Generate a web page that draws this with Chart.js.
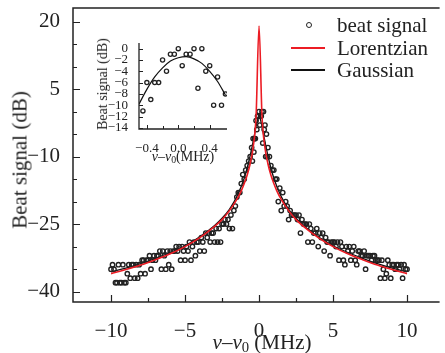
<!DOCTYPE html>
<html>
<head>
<meta charset="utf-8">
<script src="https://cdn.jsdelivr.net/npm/chart.js@4"></script>
<style>
  body { margin: 0; background: #fff; }
  #wrap { position: relative; width: 445px; height: 353px; overflow: hidden; font-family: "Liberation Serif", serif; color: #222; }
  canvas { position: absolute; }
  .txt { position: absolute; white-space: nowrap; line-height: 1; }
  .txt sub { font-size: 70%; vertical-align: -0.25em; line-height: 0; }
  .rot { transform: translate(-50%, -50%) rotate(-90deg); }
  .ctr { transform: translate(-50%, -50%); }
</style>
</head>
<body>
<div id="wrap">
  <canvas id="mainChart" width="445" height="353" style="left:0;top:0"></canvas>
  <canvas id="insetChart" width="160" height="145" style="left:80px;top:28px"></canvas>

  <div class="txt rot" style="left:20px;top:160px;font-size:21px">Beat signal (dB)</div>
  <div class="txt ctr" style="left:262px;top:342px;font-size:21px"><i>v</i>–<i>v</i><sub>0</sub> (MHz)</div>
  <div class="txt rot" style="left:103px;top:84px;font-size:14px">Beat signal (dB)</div>
  <div class="txt ctr" style="left:183px;top:157px;font-size:14px"><i>v</i>–<i>v</i><sub>0</sub>(MHz)</div>

  <!-- legend -->
  <div style="position:absolute;left:306px;top:22px;width:4px;height:4px;border:1px solid #222;border-radius:50%"></div>
  <div style="position:absolute;left:291px;top:47px;width:34px;height:1.5px;background:#ec1c24"></div>
  <div style="position:absolute;left:291px;top:69px;width:34px;height:1.5px;background:#111"></div>
  <div class="txt" style="left:337px;top:15px;font-size:21px">beat signal</div>
  <div class="txt" style="left:337px;top:38px;font-size:21px">Lorentzian</div>
  <div class="txt" style="left:337px;top:60px;font-size:21px">Gaussian</div>
</div>

<script>
// main plot: measured beat signal, 0.1 MHz grid on each wing
const leftStart = -10.0;
const leftY = [
  -35, -34, -35, -38, -38, -34, -38, -38, -34, -38,
  -38, -36, -34, -37, -34, -34, -37, -34, -37, -34,
  -36, -33, -33, -36, -33, -33, -32, -35, -33, -32,
  -33, -32, -32, -31, -35, -31, -32, -35, -31, -34,
  -31, -35, -31, -31, -30, -31, -30, -33, -30, -31,
  -33, -30, -31, -29, -33, -30, -29, -32, -29, -29,
  -31, -28, -29, -31, -27, -28, -27, -29, -27, -27,
  -29, -26, -29, -26, -29, -25, -25, -24, -25, -24,
  -26, -23, -26, -22, -21, -19, -18, -18, -16, -14,
  -15, -13, -12, -11, -10, -8
];
const rightStart = 0.7;
const rightY = [
  -10, -12, -13, -13, -15, -15, -20, -17, -22, -18,
  -21, -20, -21, -24, -22, -23, -23, -23, -23, -24,
  -23, -27, -24, -25, -25, -25, -29, -25, -26, -29,
  -27, -27, -26, -30, -27, -28, -27, -31, -28, -29,
  -29, -32, -29, -29, -29, -30, -29, -33, -29, -30,
  -33, -34, -30, -31, -30, -33, -31, -30, -33, -34,
  -31, -31, -32, -32, -31, -35, -32, -32, -32, -33,
  -32, -32, -33, -33, -33, -37, -33, -35, -37, -36,
  -33, -34, -37, -34, -34, -35, -34, -34, -35, -34,
  -37, -34, -35, -35
];
const gridStep = 0.1;

// centre of the line (also shown in the inset)
const centerX = [-0.45, -0.40, -0.35, -0.30, -0.25, -0.20, -0.15, -0.10, -0.05, 0.00, 0.05,
                 0.10, 0.15, 0.20, 0.25, 0.30, 0.35, 0.40, 0.45, 0.50, 0.55, 0.60];
const centerY = [-11, -6, -9, -6, -6, -2, -4, -1, -1, 0, -3,
                 -1, -1, 0, -7, 0, -4, -3, -10, -5, -10, -8];

// fitted curves
const lorX = [-10, -9, -8, -7, -6, -5, -4, -3, -2.5, -2, -1.5, -1.2, -1, -0.8, -0.6, -0.4, -0.2, 0,
              0.2, 0.4, 0.6, 0.8, 1, 1.2, 1.5, 2, 2.5, 3, 4, 5, 6, 7, 8, 9, 10];
const lorY = [-36, -35.1, -34.1, -32.9, -31.6, -30, -28, -25.5, -24, -22, -19.5, -17.6, -16, -14.1, -11.6, -8, -1, 19,
              -1, -8, -11.6, -14.1, -16, -17.6, -19.5, -22, -24, -25.5, -28, -30, -31.6, -32.9, -34.1, -35.1, -36];
const gauX = [-10, -9, -8, -7, -6, -5, -4, -3, -2.5, -2, -1.5, -1, -0.7, -0.5, -0.3, -0.15, 0,
              0.15, 0.3, 0.5, 0.7, 1, 1.5, 2, 2.5, 3, 4, 5, 6, 7, 8, 9, 10];
const gauY = [-35.6, -34.8, -33.8, -32.6, -31.3, -29.8, -27.8, -25.3, -23.7, -21.7, -18.9, -14.8, -11.2, -8.3, -5, -2.5, -1,
              -2.5, -5, -8.3, -11.2, -14.8, -18.9, -21.7, -23.7, -25.3, -27.8, -29.8, -31.3, -32.6, -33.8, -34.8, -35.6];

// inset fit
const insetFitX = [-0.5, -0.4, -0.3, -0.2, -0.1, 0, 0.1, 0.2, 0.3, 0.4, 0.5, 0.6];
const insetFitY = [-9.8, -7.2, -5.0, -3.4, -2.2, -1.6, -1.4, -1.8, -2.6, -4.0, -5.8, -8.2];

// ticks
const xTicks = [-10, -5, 0, 5, 10];
const xMinor = [-7.5, -2.5, 2.5, 7.5];
const yTicks = [20, 5, -10, -25, -40];
const yMinor = [15, 10, 0, -5, -15, -20, -30, -35];
const insetXTicks = [-0.4, 0, 0.4];
const insetXMinor = [-0.2, 0.2];
const insetYTicks = [0, -2, -4, -6, -8, -10, -12, -14];

const INK = '#222';
const RED = '#ec1c24';

function pts(xs, ys) { return xs.map((x, i) => ({ x: x, y: ys[i] })); }

const beatPoints = [];
leftY.forEach((v, i) => beatPoints.push({ x: +(leftStart + i * gridStep).toFixed(2), y: v }));
centerY.forEach((v, i) => beatPoints.push({ x: centerX[i], y: v }));
rightY.forEach((v, i) => beatPoints.push({ x: +(rightStart + i * gridStep).toFixed(2), y: v }));

const minus = v => String(v).replace('-', '\u2212');

// inward ticks + frame
function frameTicks(opt) {
  return {
    id: 'frameTicks',
    afterDraw(chart) {
      const { ctx, chartArea: a, scales: { x, y } } = chart;
      ctx.save();
      ctx.strokeStyle = INK;
      ctx.lineWidth = opt.lw;
      ctx.beginPath();
      if (opt.top) { ctx.moveTo(a.right, a.top); ctx.lineTo(a.left, a.top); }
      else ctx.moveTo(a.left, a.top);
      ctx.lineTo(a.left, a.bottom);
      ctx.lineTo(a.right, a.bottom);
      ctx.stroke();
      ctx.lineWidth = opt.tw;
      ctx.beginPath();
      opt.xMajor.forEach(v => { const p = Math.round(x.getPixelForValue(v)) + 0.5; ctx.moveTo(p, a.bottom); ctx.lineTo(p, a.bottom - opt.major); });
      opt.xMinor.forEach(v => { const p = Math.round(x.getPixelForValue(v)) + 0.5; ctx.moveTo(p, a.bottom); ctx.lineTo(p, a.bottom - opt.minor); });
      opt.yMajor.forEach(v => { const p = Math.round(y.getPixelForValue(v)) + 0.5; ctx.moveTo(a.left, p); ctx.lineTo(a.left + opt.major, p); });
      opt.yMinor.forEach(v => { const p = Math.round(y.getPixelForValue(v)) + 0.5; ctx.moveTo(a.left, p); ctx.lineTo(a.left + opt.minor, p); });
      ctx.stroke();
      ctx.restore();
    }
  };
}

function fixBox(w, h) {
  return s => {
    if (w !== null) s.width = w;
    if (h !== null) s.height = h;
    s.paddingTop = 0; s.paddingBottom = 0; s.paddingLeft = 0; s.paddingRight = 0;
  };
}

new Chart(document.getElementById('mainChart'), {
  type: 'scatter',
  data: {
    datasets: [
      {
        data: pts(lorX, lorY), showLine: true, borderColor: RED, borderWidth: 1.6,
        pointRadius: 0, cubicInterpolationMode: 'monotone', order: 1
      },
      {
        data: beatPoints, showLine: false, pointRadius: 2.2, pointBorderWidth: 1.4,
        pointBorderColor: INK, pointBackgroundColor: 'rgba(0,0,0,0)', order: 2
      },
      {
        data: pts(gauX, gauY), showLine: true, borderColor: '#111', borderWidth: 1.3,
        pointRadius: 0, cubicInterpolationMode: 'monotone', order: 3
      }
    ]
  },
  options: {
    responsive: false,
    animation: false,
    devicePixelRatio: 1,
    layout: { padding: { top: 8, right: 0, bottom: 0, left: 0 } },
    plugins: { legend: { display: false }, tooltip: { enabled: false } },
    scales: {
      x: {
        type: 'linear', min: -12.57, max: 12.2,
        afterBuildTicks: s => { s.ticks = xTicks.map(v => ({ value: v })); },
        afterFit: fixBox(null, 51),
        grid: { display: false }, border: { display: false },
        ticks: { color: INK, padding: 9, maxRotation: 0, autoSkip: false,
                 font: { family: 'Liberation Serif', size: 21 }, callback: minus }
      },
      y: {
        type: 'linear', min: -42.3, max: 23,
        afterBuildTicks: s => { s.ticks = yTicks.map(v => ({ value: v })); },
        afterFit: fixBox(73, null),
        grid: { display: false }, border: { display: false },
        ticks: { color: INK, padding: 5, autoSkip: false,
                 font: { family: 'Liberation Serif', size: 21 }, callback: minus }
      }
    }
  },
  plugins: [frameTicks({ lw: 1.5, tw: 1.2, major: 7, minor: 4, top: true,
    xMajor: xTicks, xMinor: xMinor, yMajor: yTicks, yMinor: yMinor })]
});

new Chart(document.getElementById('insetChart'), {
  type: 'scatter',
  data: {
    datasets: [
      {
        data: pts(insetFitX, insetFitY), showLine: true, borderColor: '#111', borderWidth: 1.2,
        pointRadius: 0, cubicInterpolationMode: 'monotone', order: 1
      },
      {
        data: pts(centerX, centerY), showLine: false, pointRadius: 2.1, pointBorderWidth: 1.3,
        pointBorderColor: INK, pointBackgroundColor: 'rgba(0,0,0,0)', order: 2
      }
    ]
  },
  options: {
    responsive: false,
    animation: false,
    devicePixelRatio: 1,
    layout: { padding: { top: 15, right: 13, bottom: 0, left: 0 } },
    plugins: { legend: { display: false }, tooltip: { enabled: false } },
    scales: {
      x: {
        type: 'linear', min: -0.5, max: 0.62,
        afterBuildTicks: s => { s.ticks = insetXTicks.map(v => ({ value: v })); },
        afterFit: fixBox(null, 44),
        grid: { display: false }, border: { display: false },
        ticks: { color: INK, padding: 4, maxRotation: 0, autoSkip: false,
                 font: { family: 'Liberation Serif', size: 13 },
                 callback: v => minus(v.toFixed(1)) }
      },
      y: {
        type: 'linear', min: -14.2, max: 1,
        afterBuildTicks: s => { s.ticks = insetYTicks.map(v => ({ value: v })); },
        afterFit: fixBox(59, null),
        grid: { display: false }, border: { display: false },
        ticks: { color: INK, padding: 3, autoSkip: false,
                 font: { family: 'Liberation Serif', size: 13 }, callback: minus }
      }
    }
  },
  plugins: [frameTicks({ lw: 1.3, tw: 1, major: 4, minor: 3, top: false,
    xMajor: insetXTicks, xMinor: insetXMinor, yMajor: insetYTicks, yMinor: [] })]
});
</script>
</body>
</html>
